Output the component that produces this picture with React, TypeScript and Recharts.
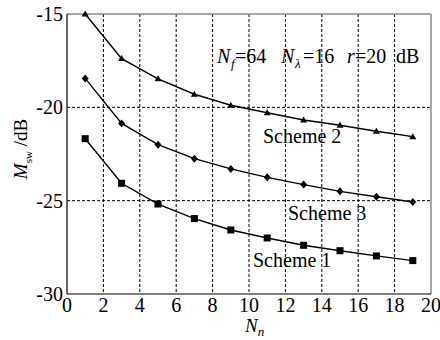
import React from 'react';
import {
  LineChart,
  Line,
  XAxis,
  YAxis,
  CartesianGrid,
  ReferenceLine,
} from 'recharts';

const nValues = [1, 3, 5, 7, 9, 11, 13, 15, 17, 19];
const scheme1 = [-21.68, -24.07, -25.18, -25.96, -26.57, -27.0, -27.39, -27.68, -27.96, -28.21];
const scheme2 = [-15.0, -17.39, -18.47, -19.3, -19.89, -20.29, -20.68, -20.96, -21.28, -21.57];
const scheme3 = [-18.45, -20.86, -22.0, -22.75, -23.3, -23.75, -24.14, -24.5, -24.79, -25.07];
const xTicks = [0, 2, 4, 6, 8, 10, 12, 14, 16, 18, 20];
const yTicks = [-30, -25, -20, -15];

const data = nValues.map((n, i) => ({ n, s1: scheme1[i], s2: scheme2[i], s3: scheme3[i] }));

const FONT = 'Liberation Serif, Tinos, DejaVu Serif, serif';

const Square = (p: any) => (
  <rect key={p.key ?? `sq-${p.index}`} x={p.cx - 3.5} y={p.cy - 3.5} width={7} height={7} fill="#000" />
);
const Diamond = (p: any) => (
  <path
    key={p.key ?? `dm-${p.index}`}
    d={`M${p.cx},${p.cy - 4} L${p.cx + 3.5},${p.cy} L${p.cx},${p.cy + 4} L${p.cx - 3.5},${p.cy} Z`}
    fill="#000"
  />
);
const Triangle = (p: any) => (
  <path
    key={p.key ?? `tr-${p.index}`}
    d={`M${p.cx},${p.cy - 3.5} L${p.cx + 3.5},${p.cy + 2.5} L${p.cx - 3.5},${p.cy + 2.5} Z`}
    fill="#000"
  />
);

const App: React.FC = () => {
  const tickStyle = { fontSize: 20, fill: '#000', fontFamily: FONT };
  return (
    <div style={{ position: 'absolute', left: 0, top: 0, width: 440, height: 340, background: '#fff', fontFamily: FONT }}>
      <LineChart width={440} height={340} data={data} margin={{ top: 14, right: 9, bottom: 0, left: 0 }}>
        <CartesianGrid
          stroke="#000"
          strokeDasharray="3 2"
          horizontalValues={[-20, -25]}
          verticalValues={[2, 4, 6, 8, 10, 12, 14, 16, 18]}
        />
        <XAxis
          dataKey="n"
          type="number"
          domain={[0, 20]}
          ticks={xTicks}
          height={46}
          tickSize={0}
          tickMargin={4}
          tick={tickStyle}
          axisLine={{ stroke: '#000', strokeWidth: 1.2 }}
          interval={0}
        />
        <YAxis
          type="number"
          domain={[-30, -15]}
          ticks={yTicks}
          width={67}
          tickSize={0}
          tickMargin={4}
          tick={tickStyle}
          axisLine={{ stroke: '#000', strokeWidth: 1.2 }}
          interval={0}
        />
        <ReferenceLine y={-15} stroke="#8a8a8a" strokeWidth={1.5} />
        <ReferenceLine x={20} stroke="#8a8a8a" strokeWidth={1.5} />
        <Line dataKey="s2" type="linear" stroke="#000" strokeWidth={1.4} dot={Triangle} isAnimationActive={false} />
        <Line dataKey="s3" type="linear" stroke="#000" strokeWidth={1.4} dot={Diamond} isAnimationActive={false} />
        <Line dataKey="s1" type="linear" stroke="#000" strokeWidth={1.4} dot={Square} isAnimationActive={false} />
      </LineChart>
      <svg
        width={440}
        height={340}
        fontFamily={FONT}
        style={{ position: 'absolute', left: 0, top: 0, pointerEvents: 'none' }}
      >
        <text y={63} fontSize={20}>
          <tspan x={217} fontStyle="italic">N</tspan>
          <tspan x={231} fontStyle="italic" fontSize={13} dy={5}>f</tspan>
          <tspan x={235} dy={-5}>=64</tspan>
          <tspan x={281} fontStyle="italic">N</tspan>
          <tspan x={295} fontStyle="italic" fontSize={13} dy={5}>λ</tspan>
          <tspan x={303} dy={-5}>=16</tspan>
          <tspan x={347} fontStyle="italic">r</tspan>
          <tspan x={355}>=20</tspan>
          <tspan x={396}>dB</tspan>
        </text>
        <text x={263} y={143} fontSize={20}>Scheme 2</text>
        <text x={288} y={220} fontSize={20}>Scheme 3</text>
        <text x={253} y={267} fontSize={20}>Scheme 1</text>
        <text x={245} y={332} fontSize={19}>
          <tspan fontStyle="italic">N</tspan>
          <tspan fontStyle="italic" fontSize={13} dy={4}>n</tspan>
        </text>
        <text transform="translate(27,149) rotate(-90)" fontSize={19} textAnchor="middle" style={{ whiteSpace: 'pre' }}>
          <tspan fontStyle="italic">M</tspan>
          <tspan fontSize={11} dy={5}>sw</tspan>
          <tspan dy={-5}>{' /dB'}</tspan>
        </text>
      </svg>
    </div>
  );
};

export default App;
